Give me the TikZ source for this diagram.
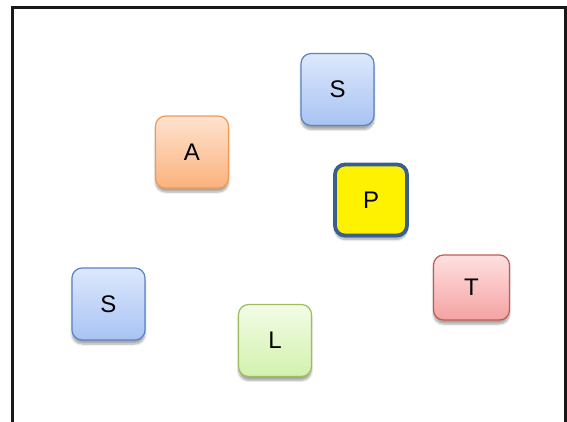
\documentclass[tikz,border=0pt]{standalone}
\usepackage{fontspec}
\setmainfont{Liberation Sans}
\usetikzlibrary{shadows.blur}
\definecolor{blueedge}{HTML}{5A83C2}
\definecolor{bluetop}{HTML}{DDE8FC}
\definecolor{bluebot}{HTML}{A8C3F3}
\definecolor{orangeedge}{HTML}{F39A52}
\definecolor{orangetop}{HTML}{FFE3D0}
\definecolor{orangebot}{HTML}{FBB27C}
\definecolor{rededge}{HTML}{C45A57}
\definecolor{redtop}{HTML}{FFE0E0}
\definecolor{redbot}{HTML}{F4A2A2}
\definecolor{greenedge}{HTML}{9EBE5E}
\definecolor{greentop}{HTML}{F3FCE6}
\definecolor{greenbot}{HTML}{D3F1AE}
\definecolor{pedge}{HTML}{3A5F8C}
\tikzset{
  card/.style={rounded corners=10pt, minimum width=73pt, minimum height=72pt,
    inner sep=0pt, line width=1.2pt, font=\fontsize{24}{26}\selectfont,
    blur shadow={shadow xshift=0pt, shadow yshift=-4pt, shadow blur steps=6,
      shadow opacity=35}},
  bluecard/.style={card, draw=blueedge, top color=bluetop, bottom color=bluebot},
  orangecard/.style={card, draw=orangeedge, top color=orangetop, bottom color=orangebot},
  redcard/.style={card, draw=rededge, top color=redtop, bottom color=redbot},
  greencard/.style={card, draw=greenedge, top color=greentop, bottom color=greenbot},
  pcard/.style={card, draw=pedge, fill=yellow, line width=3.8pt,
    minimum width=72pt, minimum height=71pt},
}
\begin{document}
\begin{tikzpicture}[x=1pt, y=-1pt]
  \useasboundingbox (0,0) rectangle (567,421);
  % open frame
  \draw[line width=3pt, line join=miter, color=black!90]
    (12.5,425) -- (12.5,7.5) -- (565,7.5) -- (565,425);
  % cards
  \node[bluecard]   (stop)  at (337.5,89.5)  {S};
  \node[orangecard] (a)     at (192,152)     {A};
  \node[pcard]      (p)     at (371,200)     {P};
  \node[redcard, minimum width=76pt, minimum height=65pt] (t) at (471.5,287.5) {T};
  \node[bluecard]   (sleft) at (108.5,304)   {S};
  \node[greencard]  (l)     at (275,340.5)   {L};
\end{tikzpicture}
\end{document}
